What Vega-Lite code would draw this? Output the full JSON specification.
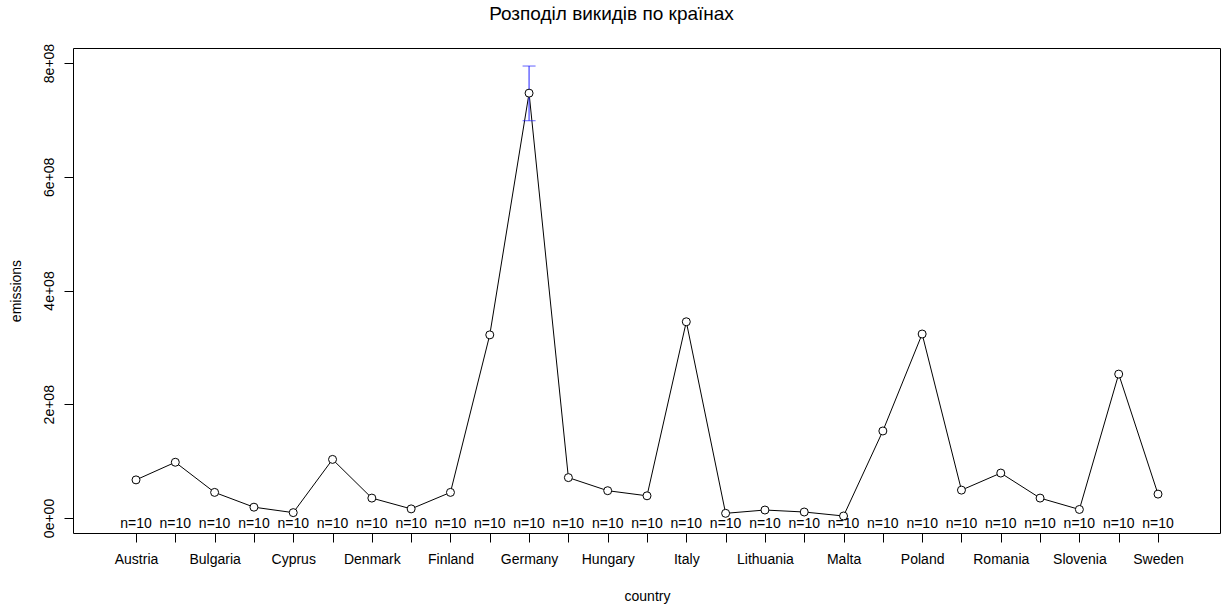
{
  "$schema": "https://vega.github.io/schema/vega-lite/v6.json",
  "width": 1147,
  "height": 485,
  "autosize": {"type": "none"},
  "padding": {"left": 73, "top": 48, "right": 1, "bottom": 71},
  "background": "white",
  "title": {
    "text": "Розподіл викидів по країнах",
    "font": "Liberation Sans",
    "fontSize": 19,
    "fontWeight": "normal",
    "color": "black",
    "anchor": "middle",
    "dx": -35,
    "offset": 19
  },
  "data": {
    "values": [
      {"country": "Austria", "mean": 6.7e7, "n": 10},
      {"country": "Belgium", "mean": 9.8e7, "n": 10},
      {"country": "Bulgaria", "mean": 4.5e7, "n": 10},
      {"country": "Croatia", "mean": 1.9e7, "n": 10},
      {"country": "Cyprus", "mean": 9.4e6, "n": 10},
      {"country": "Czechia", "mean": 1.03e8, "n": 10},
      {"country": "Denmark", "mean": 3.5e7, "n": 10},
      {"country": "Estonia", "mean": 1.6e7, "n": 10},
      {"country": "Finland", "mean": 4.5e7, "n": 10},
      {"country": "France", "mean": 3.22e8, "n": 10},
      {"country": "Germany", "mean": 7.47e8, "n": 10, "lo": 6.985e8, "hi": 7.947e8},
      {"country": "Greece", "mean": 7.1e7, "n": 10},
      {"country": "Hungary", "mean": 4.8e7, "n": 10},
      {"country": "Ireland", "mean": 3.9e7, "n": 10},
      {"country": "Italy", "mean": 3.45e8, "n": 10},
      {"country": "Latvia", "mean": 8.2e6, "n": 10},
      {"country": "Lithuania", "mean": 1.4e7, "n": 10},
      {"country": "Luxembourg", "mean": 1.05e7, "n": 10},
      {"country": "Malta", "mean": 3.5e6, "n": 10},
      {"country": "Netherlands", "mean": 1.53e8, "n": 10},
      {"country": "Poland", "mean": 3.235e8, "n": 10},
      {"country": "Portugal", "mean": 4.9e7, "n": 10},
      {"country": "Romania", "mean": 7.9e7, "n": 10},
      {"country": "Slovakia", "mean": 3.5e7, "n": 10},
      {"country": "Slovenia", "mean": 1.5e7, "n": 10},
      {"country": "Spain", "mean": 2.53e8, "n": 10},
      {"country": "Sweden", "mean": 4.2e7, "n": 10}
    ]
  },
  "encoding": {
    "x": {
      "field": "country",
      "type": "nominal",
      "sort": null,
      "scale": {"type": "point", "padding": 0, "range": [63, 1085]},
      "axis": {
        "title": "country",
        "titleFont": "Liberation Sans",
        "titleFontSize": 14,
        "titleFontWeight": "normal",
        "titleColor": "black",
        "titlePadding": 23,
        "labelFont": "Liberation Sans",
        "labelFontSize": 14,
        "labelColor": "black",
        "labelAngle": 0,
        "labelOverlap": false,
        "labelPadding": 10,
        "labelExpr": "indexof(['Austria','Bulgaria','Cyprus','Denmark','Finland','Germany','Hungary','Italy','Lithuania','Malta','Poland','Romania','Slovenia','Sweden'], datum.value) >= 0 ? datum.label : ''",
        "tickSize": 9,
        "tickColor": "black",
        "domain": false,
        "grid": false
      }
    }
  },
  "layer": [
    {
      "mark": {"type": "line", "color": "black", "strokeWidth": 1},
      "encoding": {
        "y": {
          "field": "mean",
          "type": "quantitative",
          "scale": {"domain": [-2.64e7, 8.264e8], "nice": false, "zero": false},
          "axis": {
            "title": "emissions",
            "titleFont": "Liberation Sans",
            "titleFontSize": 14,
            "titleFontWeight": "normal",
            "titleColor": "black",
            "titlePadding": 19,
            "values": [0, 200000000, 400000000, 600000000, 800000000],
            "labelExpr": "datum.value == 0 ? '0e+00' : (datum.value / 100000000) + 'e+08'",
            "labelFont": "Liberation Sans",
            "labelFontSize": 14,
            "labelColor": "black",
            "labelAngle": -90,
            "labelAlign": "center",
            "labelBaseline": "bottom",
            "labelPadding": 8,
            "tickSize": 9,
            "tickColor": "black",
            "domain": false,
            "grid": false
          }
        }
      }
    },
    {
      "mark": {"type": "rule", "color": "#2020ff", "strokeWidth": 1},
      "encoding": {
        "y": {"field": "lo", "type": "quantitative"},
        "y2": {"field": "hi"}
      }
    },
    {
      "mark": {"type": "tick", "color": "#2020ff", "size": 13, "thickness": 1, "orient": "horizontal"},
      "encoding": {"y": {"field": "lo", "type": "quantitative"}}
    },
    {
      "mark": {"type": "tick", "color": "#2020ff", "size": 13, "thickness": 1, "orient": "horizontal"},
      "encoding": {"y": {"field": "hi", "type": "quantitative"}}
    },
    {
      "mark": {"type": "point", "shape": "circle", "size": 64, "filled": false, "fill": "white", "fillOpacity": 1, "stroke": "black", "strokeWidth": 1, "opacity": 1},
      "encoding": {"y": {"field": "mean", "type": "quantitative"}}
    },
    {
      "transform": [{"calculate": "'n=' + datum.n", "as": "nlabel"}],
      "mark": {"type": "text", "font": "Liberation Sans", "fontSize": 14, "color": "black", "baseline": "alphabetic", "dy": -5},
      "encoding": {
        "y": {"datum": -26400000},
        "text": {"field": "nlabel", "type": "nominal"}
      }
    }
  ],
  "config": {
    "view": {"stroke": "black", "strokeWidth": 1},
    "axis": {"labelFont": "Liberation Sans"}
  }
}
